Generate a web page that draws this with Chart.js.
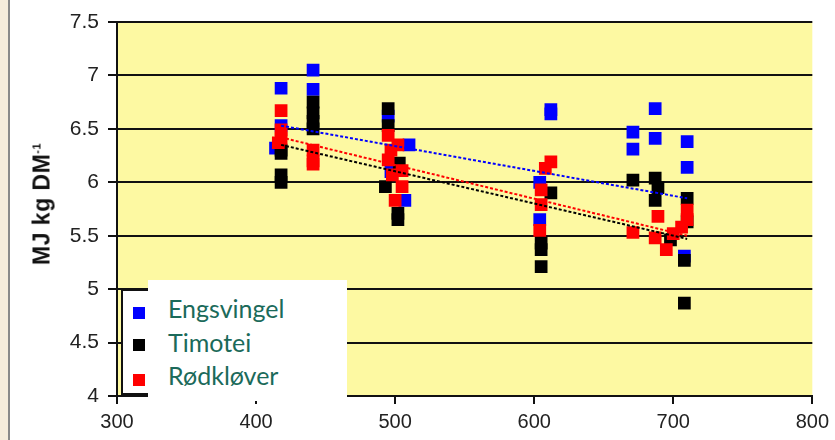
<!DOCTYPE html>
<html>
<head>
<meta charset="utf-8">
<script src="https://cdn.jsdelivr.net/npm/chart.js@4.4.1/dist/chart.umd.min.js"></script>
<style>
  html, body { margin: 0; padding: 0; background: #fff; }
  #wrap { position: relative; width: 835px; height: 440px; overflow: hidden; }
  #edge { position: absolute; left: 0; top: 0; width: 8px; height: 440px; background: #f6eddc; border-right: 2px solid #8a8a8a; }
  #ytitle { position: absolute; left: 42px; top: 204px; transform: translate(-50%, -50%) rotate(-90deg);
            font: bold 23px 'Liberation Sans', Arial, sans-serif; letter-spacing: 0.5px; color: #111; white-space: nowrap; }
  #ytitle sup { font-size: 11px; }
  #oldLegend { position: absolute; left: 121px; top: 289px; width: 120px; height: 102px; background: #fff; border: 2px solid #111; }
  .sq { position: absolute; left: 10px; width: 12px; height: 12px; }
  #newLegend { position: absolute; left: 148px; top: 280px; width: 199px; height: 121px; background: #fff;
               font: 25px Lato, 'Open Sans', sans-serif; color: #1b6a5a; line-height: 30px; }
  #newLegend div { position: absolute; left: 20px; }
</style>
</head>
<body>
<div id="wrap">
  <canvas id="chart"></canvas>
  <div id="edge"></div>
  <div id="ytitle">MJ kg DM<sup>-1</sup></div>
  <div id="oldLegend">
    <div class="sq" style="top:16px;background:#0000ff"></div>
    <div class="sq" style="top:48px;background:#000"></div>
    <div class="sq" style="top:83px;background:#ff0000"></div>
  </div>
  <div id="newLegend">
    <div style="top:13px">Engsvingel</div>
    <div style="top:47px">Timotei</div>
    <div style="top:80px">Rødkløver</div>
  </div>
</div>
<script>
// Engsvingel (blue)
const engX = [418, 418, 414, 441, 441, 495, 510, 497, 507, 612, 612, 604, 604, 687, 671, 671, 687, 710, 710, 708];
const engY = [6.88, 6.53, 6.32, 7.05, 6.87, 6.62, 6.35, 6.10, 5.83, 6.68, 6.64, 6.00, 5.65, 6.69, 6.47, 6.31, 6.41, 6.38, 6.14, 5.31];

// Timotei (black)
const timX = [418, 418, 418, 418, 441, 441, 441, 441, 495, 495, 503, 493, 502, 502, 612, 605, 605, 605, 671, 687, 689, 687, 710, 698, 710, 708, 708];
const timY = [6.27, 6.30, 6.07, 6.00, 6.75, 6.65, 6.57, 6.50, 6.69, 6.53, 6.18, 5.96, 5.71, 5.65, 5.90, 5.43, 5.37, 5.21, 6.02, 6.04, 5.95, 5.83, 5.85, 5.46, 5.63, 5.27, 4.87];

// Rødkløver (red)
const rodX = [418, 418, 418, 416, 441, 441, 441, 495, 502, 495, 498, 505, 505, 500, 497, 612, 608, 605, 605, 604, 671, 689, 687, 695, 710, 706, 710, 700];
const rodY = [6.67, 6.49, 6.41, 6.37, 6.30, 6.20, 6.17, 6.44, 6.35, 6.21, 6.07, 6.11, 5.96, 5.83, 6.30, 6.19, 6.13, 5.93, 5.79, 5.55, 5.53, 5.68, 5.48, 5.37, 5.74, 5.58, 5.65, 5.52];

// trend lines (start, end)
const trendX = [418, 710];
const engTrend = [6.53, 5.85];
const timTrend = [6.35, 5.47];
const rodTrend = [6.42, 5.50];

const xTicks = [300, 400, 500, 600, 700, 800];
const yTicks = [4, 4.5, 5, 5.5, 6, 6.5, 7, 7.5];

const pts = (xs, ys) => xs.map((x, i) => ({ x: x, y: ys[i] }));

Chart.defaults.font.family = "'Liberation Sans', Arial, sans-serif";

const plotBg = {
    id: 'plotBg',
    beforeDraw(chart) {
        const a = chart.chartArea;
        const ctx = chart.ctx;
        ctx.save();
        ctx.fillStyle = '#fdf9a2';
        ctx.fillRect(a.left, a.top, a.right - a.left, a.bottom - a.top);
        ctx.restore();
    }
};

function markers(label, xs, ys, color, order) {
    return {
        type: 'scatter', label: label, data: pts(xs, ys),
        pointStyle: 'rect', pointRadius: 9, pointHoverRadius: 9,
        backgroundColor: color, borderWidth: 0, order: order
    };
}

function trend(ys, color) {
    return {
        type: 'line', data: pts(trendX, ys),
        borderColor: color, borderWidth: 2, borderDash: [3, 2],
        pointRadius: 0, fill: false, order: 0
    };
}

new Chart(document.getElementById('chart'), {
    type: 'scatter',
    data: {
        datasets: [
            trend(engTrend, '#0000ff'),
            trend(rodTrend, '#ff0000'),
            trend(timTrend, '#000000'),
            markers('Rødkløver', rodX, rodY, '#ff0000', 1),
            markers('Timotei', timX, timY, '#000000', 2),
            markers('Engsvingel', engX, engY, '#0000ff', 3)
        ]
    },
    options: {
        responsive: true,
        maintainAspectRatio: false,
        animation: false,
        layout: { padding: { left: 0, top: 22, right: 17, bottom: 0 } },
        plugins: { legend: { display: false }, tooltip: { enabled: false } },
        scales: {
            x: {
                type: 'linear', min: 300, max: 800,
                afterFit: s => { s.height = 44; },
                afterBuildTicks: s => { s.ticks = xTicks.map(v => ({ value: v })); },
                grid: { drawOnChartArea: false, drawTicks: true, tickLength: 8, color: '#111', lineWidth: 2 },
                border: { display: true, color: '#111', width: 2 },
                ticks: { color: '#222', font: { size: 20 }, padding: 6 }
            },
            y: {
                type: 'linear', min: 4, max: 7.5,
                afterFit: s => { s.width = 117; },
                afterBuildTicks: s => { s.ticks = yTicks.map(v => ({ value: v })); },
                grid: { drawTicks: true, tickLength: 9, color: '#111', lineWidth: 2 },
                border: { display: true, color: '#111', width: 2 },
                ticks: { color: '#222', font: { size: 21 }, padding: 9, callback: v => String(v) }
            }
        }
    },
    plugins: [plotBg]
});
</script>
</body>
</html>
